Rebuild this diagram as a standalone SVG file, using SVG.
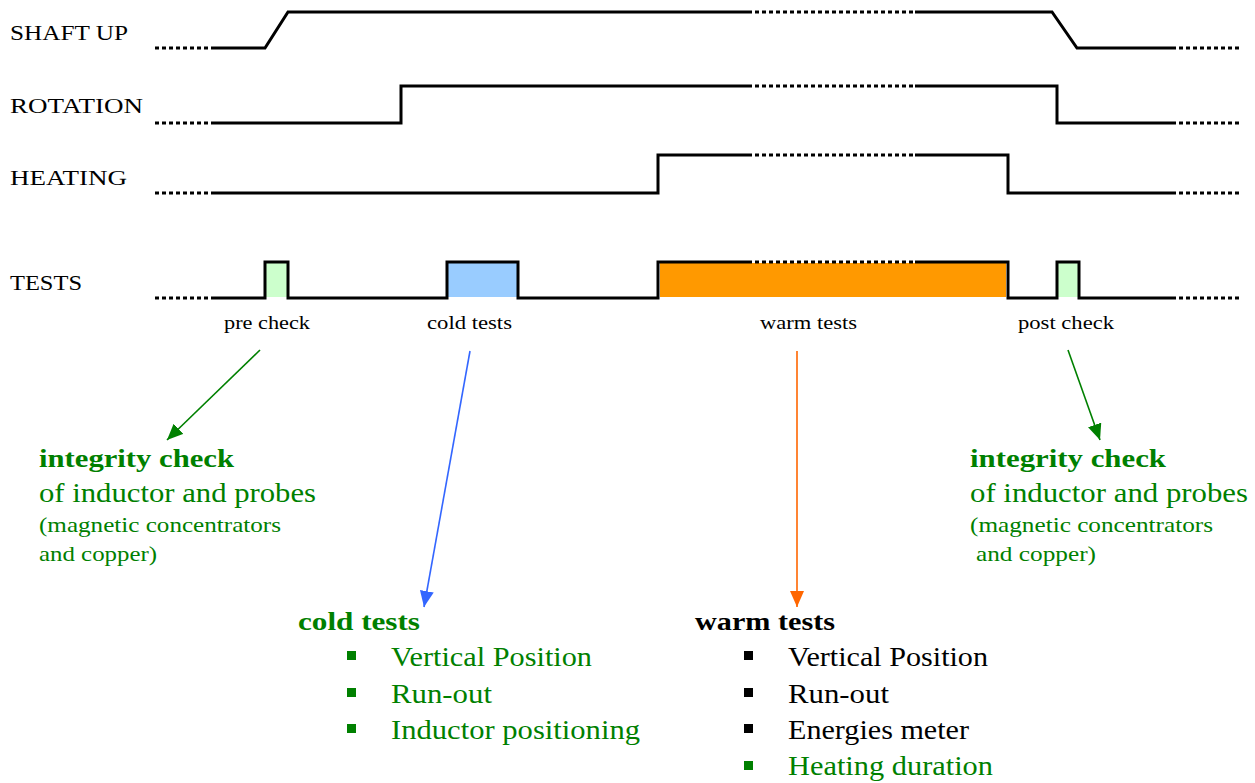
<svg xmlns="http://www.w3.org/2000/svg" width="1255" height="783" viewBox="0 0 1255 783">
<style>
.sig{fill:none;stroke:#000;stroke-width:3;stroke-linejoin:miter}
.dot{fill:none;stroke:#000;stroke-width:3;stroke-dasharray:4 3}
text{font-family:'Liberation Serif','Times New Roman',serif}
.lbl{font-size:21px;fill:#000}
.sm{font-size:19px;fill:#000}
.hd{font-size:26px;font-weight:bold}
.tx{font-size:27px}
.tx2{font-size:22px}
.g{fill:#008000}
.k{fill:#000}
</style>
<defs>
<marker id="ag" markerUnits="userSpaceOnUse" markerWidth="18" markerHeight="16" refX="16" refY="7" orient="auto"><path d="M0,0 L16,7 L0,14 Z" fill="#008000"/></marker>
<marker id="ab" markerUnits="userSpaceOnUse" markerWidth="18" markerHeight="16" refX="16" refY="7" orient="auto"><path d="M0,0 L16,7 L0,14 Z" fill="#3366FF"/></marker>
<marker id="ao" markerUnits="userSpaceOnUse" markerWidth="18" markerHeight="16" refX="16" refY="7" orient="auto"><path d="M0,0 L16,7 L0,14 Z" fill="#FF6600"/></marker>
</defs>
<rect width="1255" height="783" fill="#fff"/>

<g id="signal-labels" font-family="Liberation Serif, serif">
<text class="lbl" x="10" y="40" textLength="118" lengthAdjust="spacingAndGlyphs">SHAFT UP</text>
<text class="lbl" x="10" y="113" textLength="133" lengthAdjust="spacingAndGlyphs">ROTATION</text>
<text class="lbl" x="10" y="185" textLength="117" lengthAdjust="spacingAndGlyphs">HEATING</text>
<text class="lbl" x="10" y="290" textLength="72" lengthAdjust="spacingAndGlyphs">TESTS</text>
</g>

<g id="test-fills">
<rect x="266" y="263" width="21" height="34" fill="#CCFFCC"/>
<rect x="448" y="263" width="69" height="34" fill="#99CCFF"/>
<rect x="660" y="263" width="346" height="34" fill="#FF9900"/>
<rect x="1058" y="263" width="20" height="34" fill="#CCFFCC"/>
</g>

<g id="shaft-up">
<line class="dot" x1="155" y1="48" x2="212" y2="48"/>
<polyline class="sig" points="212,48 265,48 288,12 748,12"/>
<line class="dot" x1="748" y1="12" x2="915" y2="12"/>
<polyline class="sig" points="915,12 1052,12 1077,48 1172,48"/>
<line class="dot" x1="1172" y1="48" x2="1240" y2="48"/>
</g>

<g id="rotation">
<line class="dot" x1="155" y1="123" x2="212" y2="123"/>
<polyline class="sig" points="212,123 401,123 401,86 748,86"/>
<line class="dot" x1="748" y1="86" x2="915" y2="86"/>
<polyline class="sig" points="915,86 1057,86 1057,123 1172,123"/>
<line class="dot" x1="1172" y1="123" x2="1240" y2="123"/>
</g>

<g id="heating">
<line class="dot" x1="155" y1="193" x2="212" y2="193"/>
<polyline class="sig" points="212,193 658,193 658,155 748,155"/>
<line class="dot" x1="748" y1="155" x2="915" y2="155"/>
<polyline class="sig" points="915,155 1008,155 1008,193 1172,193"/>
<line class="dot" x1="1172" y1="193" x2="1240" y2="193"/>
</g>

<g id="tests">
<line class="dot" x1="155" y1="298" x2="212" y2="298"/>
<polyline class="sig" points="212,298 265,298 265,262 288,262 288,298 447,298 447,262 518,262 518,298 658,298 658,262 748,262"/>
<line class="dot" x1="748" y1="262" x2="915" y2="262"/>
<polyline class="sig" points="915,262 1008,262 1008,298 1057,298 1057,262 1079,262 1079,298 1172,298"/>
<line class="dot" x1="1172" y1="298" x2="1240" y2="298"/>
</g>

<g id="phase-labels">
<text class="sm" x="224" y="329" textLength="86" lengthAdjust="spacingAndGlyphs">pre check</text>
<text class="sm" x="427" y="329" textLength="85" lengthAdjust="spacingAndGlyphs">cold tests</text>
<text class="sm" x="760" y="329" textLength="97" lengthAdjust="spacingAndGlyphs">warm tests</text>
<text class="sm" x="1018" y="329" textLength="96" lengthAdjust="spacingAndGlyphs">post check</text>
</g>

<g id="connectors">
<line x1="260" y1="350" x2="167" y2="440" stroke="#008000" stroke-width="1.6" marker-end="url(#ag)"/>
<line x1="470" y1="351" x2="424" y2="607" stroke="#3366FF" stroke-width="1.6" marker-end="url(#ab)"/>
<line x1="797" y1="351" x2="797" y2="607" stroke="#FF6600" stroke-width="1.6" marker-end="url(#ao)"/>
<line x1="1068" y1="350" x2="1100" y2="440" stroke="#008000" stroke-width="1.6" marker-end="url(#ag)"/>
</g>

<g id="pre-check-note">
<text class="hd g" x="39" y="467" textLength="195" lengthAdjust="spacingAndGlyphs">integrity check</text>
<text class="tx g" x="39" y="502" textLength="277" lengthAdjust="spacingAndGlyphs">of inductor and probes</text>
<text class="tx2 g" x="39" y="532" textLength="242" lengthAdjust="spacingAndGlyphs">(magnetic concentrators</text>
<text class="tx2 g" x="39" y="561" textLength="118" lengthAdjust="spacingAndGlyphs">and copper)</text>
</g>

<g id="post-check-note">
<text class="hd g" x="970" y="467" textLength="196" lengthAdjust="spacingAndGlyphs">integrity check</text>
<text class="tx g" x="970" y="502" textLength="278" lengthAdjust="spacingAndGlyphs">of inductor and probes</text>
<text class="tx2 g" x="970" y="532" textLength="243" lengthAdjust="spacingAndGlyphs">(magnetic concentrators</text>
<text class="tx2 g" x="976" y="561" textLength="120" lengthAdjust="spacingAndGlyphs">and copper)</text>
</g>

<g id="cold-tests-list">
<text class="hd g" x="298" y="630" textLength="122" lengthAdjust="spacingAndGlyphs">cold tests</text>
<rect x="347" y="651" width="9" height="9" fill="#008000"/>
<rect x="347" y="688" width="9" height="9" fill="#008000"/>
<rect x="347" y="724" width="9" height="9" fill="#008000"/>
<text class="tx g" x="391" y="666" textLength="201" lengthAdjust="spacingAndGlyphs">Vertical Position</text>
<text class="tx g" x="391" y="703" textLength="101" lengthAdjust="spacingAndGlyphs">Run-out</text>
<text class="tx g" x="391" y="739" textLength="249" lengthAdjust="spacingAndGlyphs">Inductor positioning</text>
</g>

<g id="warm-tests-list">
<text class="hd k" x="695" y="630" textLength="140" lengthAdjust="spacingAndGlyphs">warm tests</text>
<rect x="744" y="651" width="9" height="9" fill="#000"/>
<rect x="744" y="688" width="9" height="9" fill="#000"/>
<rect x="744" y="724" width="9" height="9" fill="#000"/>
<rect x="744" y="761" width="9" height="9" fill="#008000"/>
<text class="tx k" x="788" y="666" textLength="200" lengthAdjust="spacingAndGlyphs">Vertical Position</text>
<text class="tx k" x="788" y="703" textLength="101" lengthAdjust="spacingAndGlyphs">Run-out</text>
<text class="tx k" x="788" y="739" textLength="181" lengthAdjust="spacingAndGlyphs">Energies meter</text>
<text class="tx g" x="788" y="775" textLength="205" lengthAdjust="spacingAndGlyphs">Heating duration</text>
</g>
</svg>
